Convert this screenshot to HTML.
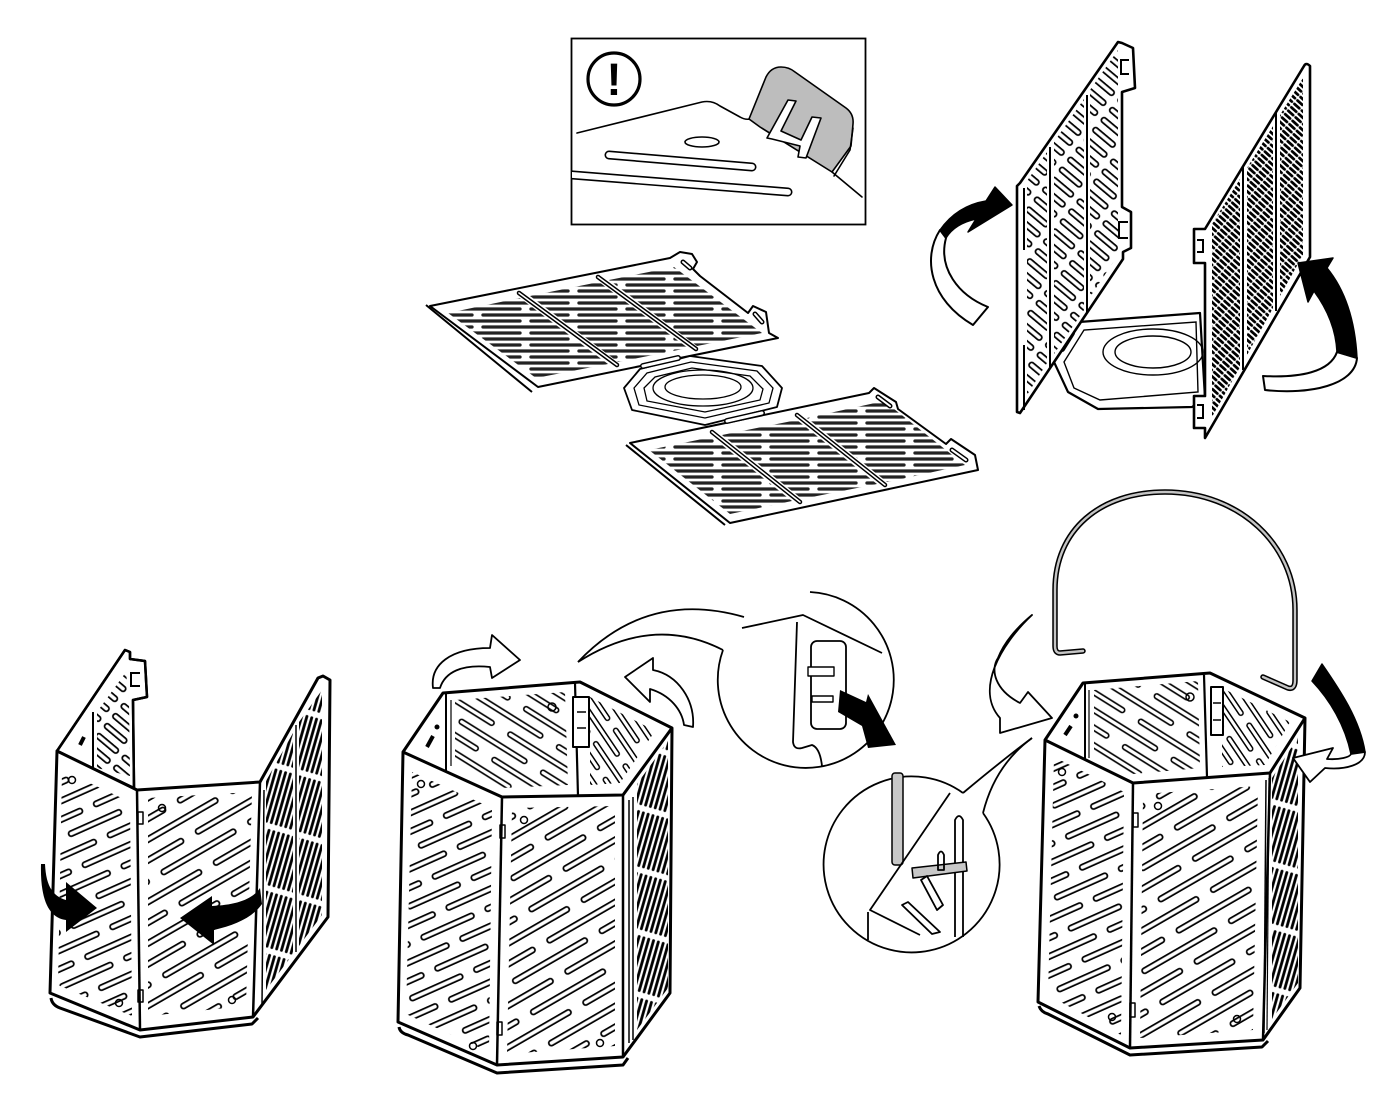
<!DOCTYPE html>
<html><head><meta charset="utf-8"><style>
html,body{margin:0;padding:0;background:#fff;}
svg{display:block;}
</style></head><body>
<svg width="1398" height="1111" viewBox="0 0 1398 1111" xmlns="http://www.w3.org/2000/svg">
<defs>
<pattern id="flat" width="96" height="12" patternUnits="userSpaceOnUse">
<g stroke="#222" stroke-width="3.3" stroke-linecap="round">
<line x1="3" y1="3" x2="88" y2="3"/>
<line x1="51" y1="9" x2="136" y2="9"/>
<line x1="-45" y1="9" x2="40" y2="9"/>
</g>
</pattern>
<pattern id="sFC" width="100" height="36" patternUnits="userSpaceOnUse" patternTransform="rotate(-30)">
<g stroke-linecap="round"><g stroke="#000" stroke-width="7">
<line x1="6" y1="9" x2="86" y2="9"/><line x1="56" y1="27" x2="136" y2="27"/><line x1="-44" y1="27" x2="36" y2="27"/></g>
<g stroke="#fff" stroke-width="3.4">
<line x1="6" y1="9" x2="86" y2="9"/><line x1="56" y1="27" x2="136" y2="27"/><line x1="-44" y1="27" x2="36" y2="27"/></g></g></pattern>
<pattern id="sFL" width="70" height="34" patternUnits="userSpaceOnUse" patternTransform="rotate(-24)">
<g stroke-linecap="round"><g stroke="#000" stroke-width="7">
<line x1="6" y1="8.5" x2="58" y2="8.5"/><line x1="41" y1="25.5" x2="93" y2="25.5"/><line x1="-29" y1="25.5" x2="23" y2="25.5"/></g>
<g stroke="#fff" stroke-width="3.4">
<line x1="6" y1="8.5" x2="58" y2="8.5"/><line x1="41" y1="25.5" x2="93" y2="25.5"/><line x1="-29" y1="25.5" x2="23" y2="25.5"/></g></g></pattern>
<pattern id="sBC" width="96" height="30" patternUnits="userSpaceOnUse" patternTransform="rotate(32)">
<g stroke-linecap="round"><g stroke="#000" stroke-width="6.5">
<line x1="6" y1="7.5" x2="80" y2="7.5"/><line x1="54" y1="22.5" x2="128" y2="22.5"/><line x1="-42" y1="22.5" x2="32" y2="22.5"/></g>
<g stroke="#fff" stroke-width="3.2">
<line x1="6" y1="7.5" x2="80" y2="7.5"/><line x1="54" y1="22.5" x2="128" y2="22.5"/><line x1="-42" y1="22.5" x2="32" y2="22.5"/></g></g></pattern>
<pattern id="sBR" width="70" height="24" patternUnits="userSpaceOnUse" patternTransform="rotate(56)">
<g stroke-linecap="round"><g stroke="#000" stroke-width="6">
<line x1="5" y1="6" x2="60" y2="6"/><line x1="40" y1="18" x2="95" y2="18"/><line x1="-30" y1="18" x2="25" y2="18"/></g>
<g stroke="#fff" stroke-width="3">
<line x1="5" y1="6" x2="60" y2="6"/><line x1="40" y1="18" x2="95" y2="18"/><line x1="-30" y1="18" x2="25" y2="18"/></g></g></pattern>
<pattern id="sS3" width="34" height="13" patternUnits="userSpaceOnUse" patternTransform="rotate(40)">
<g stroke-linecap="round"><line x1="5" y1="6.5" x2="27" y2="6.5" stroke="#000" stroke-width="7"/>
<line x1="5" y1="6.5" x2="27" y2="6.5" stroke="#fff" stroke-width="3.4"/></g></pattern>
<pattern id="dark" width="5" height="60" patternUnits="userSpaceOnUse" patternTransform="rotate(16)">
<line x1="2.5" y1="4" x2="2.5" y2="56" stroke="#000" stroke-width="2.8" stroke-linecap="round"/></pattern>
<pattern id="dark2" width="10" height="4.6" patternUnits="userSpaceOnUse" patternTransform="rotate(42)">
<line x1="1.5" y1="2.3" x2="8" y2="2.3" stroke="#000" stroke-width="2.8" stroke-linecap="round"/></pattern>
<clipPath id="boxclip"><rect x="572" y="39" width="293" height="185"/></clipPath>
</defs>
<rect width="1398" height="1111" fill="#fff"/>

<!-- ================= WARNING BOX ================= -->
<rect x="571.5" y="38.5" width="294" height="186" fill="#fff" stroke="#000" stroke-width="1.8"/>
<circle cx="614" cy="79" r="26" fill="none" stroke="#000" stroke-width="3.2"/>
<text x="614" y="95" font-family="Liberation Sans, sans-serif" font-size="45" font-weight="bold" text-anchor="middle" fill="#000">!</text>
<g clip-path="url(#boxclip)" fill="none" stroke="#000" stroke-width="1.6" stroke-linejoin="round" stroke-linecap="round">
<path d="M577,133 L702,102 Q712,100 720,106 L740,117 Q745,120 750,119"/>
<path d="M749,119 L766,77 Q771,67 781,67 Q789,67 795,72 L846,108 Q854,114 853,124 L851,146 L832,172 L760,127 Z" fill="#bdbdbd"/>
<path d="M853,128 L850,150 L834,176" />
<path d="M767,138 L788,100 L796,101 L781,131 L801,140 L812,117 L821,118 L806,158 L798,157 L800,146 L772,139 Z" fill="#fff"/>
<path d="M832,172 L862,197"/>
<ellipse cx="702" cy="142" rx="17" ry="5"/>
<line x1="609" y1="155" x2="752" y2="167" stroke-width="9"/>
<line x1="609" y1="155" x2="752" y2="167" stroke="#fff" stroke-width="5.8"/>
<line x1="560" y1="174" x2="788" y2="192" stroke-width="9"/>
<line x1="560" y1="174" x2="788" y2="192" stroke="#fff" stroke-width="5.8"/>
</g>

<!-- ================= FLAT LAYOUT ================= -->
<path d="M430,306 L670,258 L680,252 L692,254 L697,262 L693,269 L700,276 L748,313 L753,306 L766,312 L769,333 L778,338 L538,387 Z" fill="#fff" stroke="#000" stroke-width="2" stroke-linejoin="round"/>
<line x1="426" y1="305" x2="532" y2="392" stroke="#000" stroke-width="2"/>
<polygon points="448,313 520,298 608,364 536,378" fill="url(#flat)"/>
<polygon points="530,296 599,282 688,348 618,362" fill="url(#flat)"/>
<polygon points="609,280 674,267 762,333 697,346" fill="url(#flat)"/>
<g stroke-linecap="round">
<line x1="519" y1="293" x2="617" y2="365" stroke="#000" stroke-width="4.5"/>
<line x1="519" y1="293" x2="617" y2="365" stroke="#fff" stroke-width="1.6"/>
<line x1="598" y1="277" x2="696" y2="349" stroke="#000" stroke-width="4.5"/>
<line x1="598" y1="277" x2="696" y2="349" stroke="#fff" stroke-width="1.6"/>
<line x1="683" y1="262" x2="690" y2="268" stroke="#000" stroke-width="5"/>
<line x1="683" y1="262" x2="690" y2="268" stroke="#fff" stroke-width="2"/>
<line x1="755" y1="314" x2="762" y2="322" stroke="#000" stroke-width="5"/>
<line x1="755" y1="314" x2="762" y2="322" stroke="#fff" stroke-width="2"/>
</g>
<path d="M624,388 L640,369 L690,356 L762,366 L782,388 L777,407 L705,425 L632,410 Z" fill="#fff" stroke="#000" stroke-width="1.8" stroke-linejoin="round"/>
<g fill="none" stroke="#000" stroke-width="1.3">
<path d="M634,388 L647,373 L691,362 L757,371 L773,388 L769,403 L705,418 L639,405 Z"/>
<path d="M644,388 L655,377 L692,368 L750,376 L763,389 L760,400 L705,412 L647,401 Z"/>
<ellipse cx="703" cy="388" rx="50" ry="18"/>
<ellipse cx="703" cy="387" rx="38" ry="12"/>
</g>
<g stroke-linecap="round">
<line x1="643" y1="366" x2="678" y2="358" stroke="#000" stroke-width="6"/>
<line x1="643" y1="366" x2="678" y2="358" stroke="#fff" stroke-width="3"/>
</g>
<path d="M630,443 L869,393 L874,388 L896,402 L898,409 L946,444 L951,439 L975,455 L978,470 L730,523 Z" fill="#fff" stroke="#000" stroke-width="2" stroke-linejoin="round"/>
<line x1="626" y1="445" x2="725" y2="525" stroke="#000" stroke-width="2"/>
<polygon points="649,450 712,437 792,501 730,514" fill="url(#flat)"/>
<polygon points="722,435 797,420 877,484 802,499" fill="url(#flat)"/>
<polygon points="807,418 884,401 965,465 887,482" fill="url(#flat)"/>
<g stroke-linecap="round">
<line x1="712" y1="432" x2="800" y2="502" stroke="#000" stroke-width="4.5"/>
<line x1="712" y1="432" x2="800" y2="502" stroke="#fff" stroke-width="1.6"/>
<line x1="797" y1="415" x2="885" y2="485" stroke="#000" stroke-width="4.5"/>
<line x1="797" y1="415" x2="885" y2="485" stroke="#fff" stroke-width="1.6"/>
<line x1="727" y1="421" x2="762" y2="413" stroke="#000" stroke-width="6"/>
<line x1="727" y1="421" x2="762" y2="413" stroke="#fff" stroke-width="3"/>
<line x1="878" y1="397" x2="890" y2="406" stroke="#000" stroke-width="5"/>
<line x1="878" y1="397" x2="890" y2="406" stroke="#fff" stroke-width="2"/>
<line x1="952" y1="450" x2="966" y2="460" stroke="#000" stroke-width="5"/>
<line x1="952" y1="450" x2="966" y2="460" stroke="#fff" stroke-width="2"/>
</g>

<!-- ================= STEP 3 ================= -->
<path d="M1054,362 L1079,322 L1200,313 L1205,398 L1192,407 L1098,409 L1068,392 Z" fill="#fff" stroke="#000" stroke-width="2.2" stroke-linejoin="round"/>
<g fill="none" stroke="#000" stroke-width="1.4">
<path d="M1064,362 L1084,330 L1196,322 L1198,392 L1100,400 L1074,388 Z"/>
<ellipse cx="1153" cy="352" rx="50" ry="23"/>
<ellipse cx="1153" cy="352" rx="38" ry="16"/>
</g>
<g stroke-linecap="round"><line x1="1062" y1="349" x2="1072" y2="333" stroke="#000" stroke-width="6"/><line x1="1062" y1="349" x2="1072" y2="333" stroke="#fff" stroke-width="3"/></g>
<path d="M1017,186 L1020,183 L1118,42 L1122,43 L1133,48 L1135,88 L1122,92 L1122,207 L1131,212 L1131,248 L1123,252 L1123,259 L1020,413 L1017,412 Z" fill="#fff" stroke="#000" stroke-width="2.6" stroke-linejoin="round"/>
<polygon points="1027,181 1047,152 1047,363 1027,395" fill="url(#sS3)"/>
<polygon points="1054,142 1084,99 1084,310 1054,354" fill="url(#sS3)"/>
<polygon points="1090,90 1118,50 1118,255 1090,297" fill="url(#sS3)"/>
<g stroke="#000" stroke-width="2" fill="none">
<line x1="1050" y1="147" x2="1050" y2="367"/>
<line x1="1087" y1="95" x2="1087" y2="313"/>
<line x1="1024" y1="188" x2="1024" y2="250"/>
<line x1="1024" y1="345" x2="1024" y2="410"/>
<path d="M1129,60 L1121,60 L1121,74 L1129,74"/>
<path d="M1128,222 L1119,222 L1119,238 L1128,238"/>
</g>
<path d="M1205,229 L1304,66 Q1306,62 1310,66 L1310,257 L1205,438 L1205,428 L1194,428 L1194,396 L1205,396 L1205,263 L1194,263 L1194,229 Z" fill="#fff" stroke="#000" stroke-width="2.6" stroke-linejoin="round"/>
<polygon points="1212,224 1240,179 1240,367 1212,417" fill="url(#dark2)"/>
<polygon points="1247,168 1273,126 1273,308 1247,355" fill="url(#dark2)"/>
<polygon points="1280,115 1303,78 1303,255 1280,296" fill="url(#dark2)"/>
<g stroke="#000" stroke-width="2" fill="none">
<line x1="1243" y1="166" x2="1243" y2="370"/>
<line x1="1276" y1="113" x2="1276" y2="311"/>
<path d="M1197,240 L1203,240 L1203,252 L1197,252"/>
<path d="M1197,405 L1203,405 L1203,418 L1197,418"/>
</g>
<path d="M940,230 C922,258 930,300 973,325 L988,307 C958,295 938,268 946,238 Z" fill="#fff" stroke="#000" stroke-width="2" stroke-linejoin="round"/>
<path d="M940,230 C952,213 968,204 986,201 L995,187 L1012,205 L968,232 L976,219 C962,222 952,228 946,238 Z" fill="#000" stroke="#000" stroke-width="1.5" stroke-linejoin="round"/>
<path d="M1357,358 C1355,385 1310,395 1265,390 L1263,376 C1300,378 1330,372 1337,352 Z" fill="#fff" stroke="#000" stroke-width="2" stroke-linejoin="round"/>
<path d="M1298,263 L1333,258 L1327,268 C1345,290 1355,320 1357,358 L1337,352 C1336,330 1328,310 1314,291 L1308,302 Z" fill="#000" stroke="#000" stroke-width="1.5" stroke-linejoin="round"/>

<!-- ================= BASKET 1 ================= -->
<path d="M57,751 L125,650 L130,652 L130,659 L145,661 L147,697 L133,700 L134,788 Z" fill="#fff" stroke="#000" stroke-width="2.5" stroke-linejoin="round"/>
<polygon points="97,712 126,672 129,702 130,776 97,768" fill="url(#sS3)"/>
<g stroke="#000" stroke-width="2" fill="none">
<line x1="93" y1="712" x2="93" y2="772"/>
<path d="M140,673 L131,673 L131,686 L140,686"/>
<line x1="80" y1="745" x2="84" y2="737" stroke-width="4"/>
</g>
<path d="M55,752 L137,790 L140,1030 L50,993 Z" fill="#fff"/>
<polygon points="62,770 130,802 132,1016 58,985" fill="url(#sFL)"/>
<path d="M137,790 L260,782 L253,1017 L140,1030 Z" fill="#fff"/>
<polygon points="148,798 252,792 246,1006 148,1016" fill="url(#sFC)"/>
<path d="M260,782 L318,678 L323,676 L330,680 L328,917 L253,1017 Z" fill="#fff"/>
<polygon points="266,781 293,733 293,954 266,990" fill="url(#dark)"/>
<polygon points="299,722 322,690 322,915 299,946" fill="url(#dark)"/>
<g fill="none" stroke="#000" stroke-linejoin="round">
<path d="M57,751 L125,650 L130,652 L130,659 L145,661 L147,697 L133,700 L134,788" stroke-width="2.5"/>
<path d="M57,751 L137,790 L260,782 L318,678 L323,676 L330,680 L328,917 L253,1017 L140,1030 L50,993 Z" stroke-width="3"/>
<path d="M137,790 L140,1030" stroke-width="2.5"/>
<path d="M260,782 L253,1017" stroke-width="2.5"/>
<line x1="264" y1="790" x2="262" y2="1005" stroke-width="1.5"/>
<line x1="296" y1="725" x2="296" y2="952" stroke-width="1.5"/>
<path d="M51,998 Q52,1005 60,1008 L140,1037 L252,1024 L258,1018" stroke-width="3"/>
<rect x="138" y="812" width="5" height="12" stroke-width="1.5"/>
<rect x="138" y="990" width="5" height="12" stroke-width="1.5"/>
<circle cx="72" cy="780" r="3.5" stroke-width="1.5"/>
<circle cx="162" cy="808" r="3.5" stroke-width="1.5"/>
<circle cx="119" cy="1003" r="3.5" stroke-width="1.5"/>
<circle cx="232" cy="1000" r="3.5" stroke-width="1.5"/>
</g>
<path d="M45,864 C46,885 52,896 66,900 L66,882 L97,908 L66,932 L66,920 C50,918 40,902 41,864 Z" fill="#000"/>
<path d="M180,918 L212,896 L212,906 C235,905 252,900 260,888 L262,904 C252,918 235,925 214,930 L214,945 Z" fill="#000"/>

<!-- ================= BASKET 2 ================= -->
<path d="M403,752 L443,693 L580,682 L672,728 L623,795 L502,797 Z" fill="#fff"/>
<polygon points="455,700 565,692 568,785 502,788 455,766" fill="url(#sBC)"/>
<polygon points="590,697 655,731 620,783 590,785" fill="url(#sBR)"/>
<path d="M403,752 L502,797 L497,1065 L398,1022 Z" fill="#fff"/>
<polygon points="412,772 492,808 489,1052 406,1014" fill="url(#sFL)"/>
<path d="M502,797 L623,795 L623,1057 L497,1065 Z" fill="#fff"/>
<polygon points="512,808 615,806 615,1046 507,1054" fill="url(#sFC)"/>
<path d="M623,795 L672,728 L670,993 L623,1057 Z" fill="#fff"/>
<polygon points="637,784 668,741 668,988 637,1030" fill="url(#dark)"/>
<g fill="none" stroke="#000" stroke-linejoin="round">
<line x1="446" y1="694" x2="446" y2="771" stroke-width="2"/>
<line x1="451" y1="700" x2="451" y2="766" stroke-width="1.2"/>
<path d="M575,683 L578,796" stroke-width="2.2"/>
<rect x="573" y="697" width="16" height="50" fill="#fff" stroke-width="2"/>
<line x1="577" y1="712" x2="586" y2="712" stroke-width="1.5"/>
<line x1="577" y1="728" x2="586" y2="728" stroke-width="1.5"/>
<line x1="427" y1="747" x2="433" y2="736" stroke-width="4"/>
<circle cx="437" cy="727" r="2" fill="#000"/>
<line x1="629" y1="800" x2="629" y2="1043" stroke-width="1.5"/>
<line x1="633" y1="797" x2="633" y2="1040" stroke-width="1.5"/>
<path d="M403,752 L443,693 L580,682 L672,728 L670,993 L623,1057 L497,1065 L398,1022 Z" stroke-width="3"/>
<path d="M403,752 L502,797 L623,795 L672,728" stroke-width="3"/>
<path d="M502,797 L497,1065" stroke-width="2.5"/>
<path d="M623,795 L623,1057" stroke-width="2.5"/>
<path d="M399,1027 Q400,1033 408,1035 L497,1073 L623,1065 L628,1058" stroke-width="3"/>
<rect x="500" y="825" width="5" height="13" stroke-width="1.5"/>
<rect x="497" y="1022" width="5" height="13" stroke-width="1.5"/>
<circle cx="421" cy="784" r="3.5" stroke-width="1.5"/>
<circle cx="524" cy="820" r="3.5" stroke-width="1.5"/>
<circle cx="473" cy="1046" r="3.5" stroke-width="1.5"/>
<circle cx="600" cy="1043" r="3.5" stroke-width="1.5"/>
<circle cx="552" cy="707" r="4" stroke-width="1.5"/>
</g>
<path d="M433,688 C430,665 450,648 490,648 L492,635 L520,660 L492,678 L490,667 C462,664 445,672 440,688 Z" fill="#fff" stroke="#000" stroke-width="1.8" stroke-linejoin="round"/>
<path d="M625,677 L653,658 L653,670 C678,675 695,700 693,727 L684,725 C682,710 670,695 650,689 L650,702 Z" fill="#fff" stroke="#000" stroke-width="1.8" stroke-linejoin="round"/>

<!-- ================= CALLOUT CIRCLE 1 ================= -->
<g fill="none" stroke="#000" stroke-width="1.8" stroke-linejoin="round">
<path d="M578,662 Q647,589 744,617"/>
<path d="M578,662 Q653,614 723,650"/>
<path d="M810,592 A88,88 0 1 1 723,650"/>
<path d="M742,628 L803,615 L882,653"/>
<path d="M797,622 L793,742 Q794,750 802,748 L812,745 Q820,748 822,766"/>
<rect x="811" y="641" width="35" height="88" rx="6" fill="#fff"/>
<rect x="808" y="667" width="26" height="9" fill="#fff" stroke-width="1.4"/>
<rect x="812" y="696" width="21" height="6" fill="#fff" stroke-width="1.4"/>
</g>
<path d="M840,690 L866,702 L868,694 L896,745 L868,748 L862,726 L838,712 Z" fill="#000"/>

<!-- ================= CALLOUT CIRCLE 2 ================= -->
<g fill="none" stroke="#000" stroke-width="1.8" stroke-linejoin="round">
<path d="M963,793 A88,88 0 1 0 983,813"/>
<path d="M963,793 Q1000,762 1032,738"/>
<path d="M983,813 Q995,765 1032,738"/>
<rect x="892" y="773" width="11" height="92" rx="3" fill="#c8c8c8" stroke-width="1.5"/>
<path d="M950,793 L870,910 L920,935"/>
<line x1="868" y1="912" x2="868" y2="940"/>
<path d="M955,937 L955,820 Q959,812 963,820 L963,937"/>
<path d="M912,868 L966,862 L967,871 L913,878 Z" fill="#c8c8c8" stroke-width="1.5"/>
<path d="M921,880 L927,876 L943,905 L937,910 Z"/>
<path d="M902,905 L908,902 L940,932 L932,934 Z"/>
<path d="M938,855 Q941,848 944,855 L944,870 L938,870 Z"/>
</g>

<!-- ================= BASKET 3 ================= -->
<path d="M1045,740 L1083,683 L1210,673 L1305,718 L1270,773 L1133,783 Z" fill="#fff"/>
<polygon points="1094,690 1198,681 1200,768 1133,774 1094,757" fill="url(#sBC)"/>
<polygon points="1222,688 1290,722 1265,765 1222,767" fill="url(#sBR)"/>
<path d="M1045,740 L1133,783 L1130,1048 L1038,1002 Z" fill="#fff"/>
<polygon points="1054,757 1124,792 1121,1035 1048,995" fill="url(#sFL)"/>
<path d="M1133,783 L1270,773 L1263,1040 L1130,1048 Z" fill="#fff"/>
<polygon points="1143,794 1258,786 1253,1030 1140,1038" fill="url(#sFC)"/>
<path d="M1270,773 L1305,718 L1300,988 L1263,1040 Z" fill="#fff"/>
<polygon points="1272,778 1298,737 1298,983 1272,1019" fill="url(#dark)"/>
<g fill="none" stroke="#000" stroke-linejoin="round">
<line x1="1085" y1="684" x2="1085" y2="760" stroke-width="2"/>
<line x1="1089" y1="690" x2="1089" y2="758" stroke-width="1.2"/>
<path d="M1204,675 L1207,777" stroke-width="2.2"/>
<rect x="1211" y="687" width="12" height="48" fill="#fff" stroke-width="2"/>
<line x1="1213" y1="703" x2="1221" y2="703" stroke-width="1.5"/>
<line x1="1213" y1="720" x2="1221" y2="720" stroke-width="1.5"/>
<line x1="1065" y1="735" x2="1071" y2="726" stroke-width="4"/>
<circle cx="1076" cy="716" r="2" fill="#000"/>
<line x1="1266" y1="780" x2="1264" y2="1033" stroke-width="1.5"/>
<line x1="1269" y1="778" x2="1267" y2="1030" stroke-width="1.2"/>
<path d="M1045,740 L1083,683 L1210,673 L1305,718 L1300,988 L1263,1040 L1130,1048 L1038,1002 Z" stroke-width="3"/>
<path d="M1045,740 L1133,783 L1270,773 L1305,718" stroke-width="3"/>
<path d="M1133,783 L1130,1048" stroke-width="2.5"/>
<path d="M1270,773 L1263,1040" stroke-width="2.5"/>
<path d="M1039,1006 Q1041,1012 1048,1014 L1130,1055 L1262,1047 L1268,1041" stroke-width="3"/>
<rect x="1133" y="813" width="5" height="14" stroke-width="1.5"/>
<rect x="1130" y="1003" width="5" height="14" stroke-width="1.5"/>
<circle cx="1062" cy="772" r="3.5" stroke-width="1.5"/>
<circle cx="1158" cy="806" r="3.5" stroke-width="1.5"/>
<circle cx="1112" cy="1017" r="3.5" stroke-width="1.5"/>
<circle cx="1237" cy="1019" r="3.5" stroke-width="1.5"/>
<circle cx="1190" cy="697" r="4" stroke-width="1.5"/>
</g>
<path d="M1083,651 L1060,653 Q1055,653 1055,646 L1055,590 C1055,530 1100,492 1165,492 C1240,492 1295,545 1295,610 L1295,680 Q1295,690 1288,688 L1263,677" fill="none" stroke="#000" stroke-width="5.5" stroke-linejoin="round" stroke-linecap="round"/>
<path d="M1083,651 L1060,653 Q1055,653 1055,646 L1055,590 C1055,530 1100,492 1165,492 C1240,492 1295,545 1295,610 L1295,680 Q1295,690 1288,688 L1263,677" fill="none" stroke="#c4c4c4" stroke-width="2.4" stroke-linejoin="round" stroke-linecap="round"/>
<path d="M1032,615 C1000,645 975,690 1000,718 L1000,733 L1052,718 L1028,692 L1020,703 C995,690 990,670 998,658 C1005,640 1020,625 1032,615 Z" fill="#fff" stroke="#000" stroke-width="1.8" stroke-linejoin="round"/>
<path d="M1322,664 C1340,690 1360,720 1365,752 L1351,754 C1345,725 1330,700 1312,681 Z" fill="#000" stroke="#000" stroke-width="1.5" stroke-linejoin="round"/>
<path d="M1365,752 C1365,765 1345,770 1325,768 L1310,782 L1293,758 L1333,748 L1327,759 C1340,760 1350,757 1351,754 Z" fill="#fff" stroke="#000" stroke-width="1.8" stroke-linejoin="round"/>
</svg>
</body></html>
